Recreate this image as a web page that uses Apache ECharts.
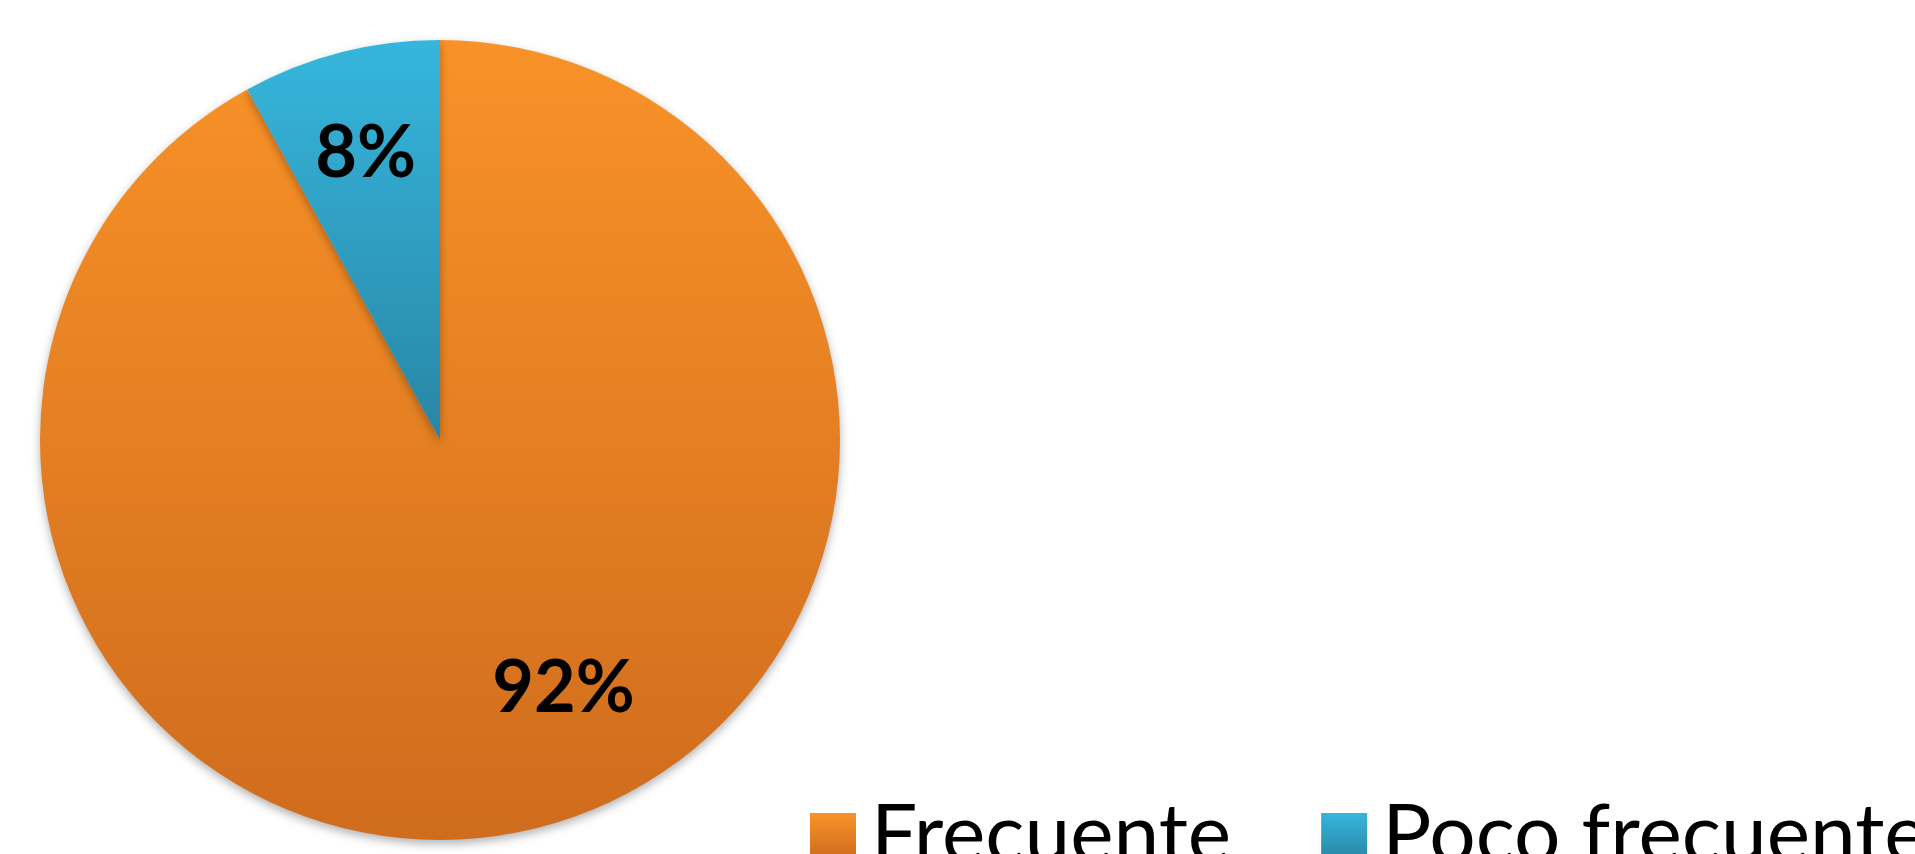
<!DOCTYPE html>
<html>
<head>
<meta charset="utf-8">
<script src="https://cdn.jsdelivr.net/npm/echarts@6/dist/echarts.min.js"></script>
<style>
  html, body { margin: 0; padding: 0; background: #fff; }
  #main { width: 1915px; height: 854px; }
</style>
</head>
<body>
<div id="main"></div>
<script>
// chart data
var categories = ['Frecuente', 'Poco frecuente'];
var values = [92, 8];
var labels = ['92%', '8%'];

var colorStops = [
    ['#F99228', '#CF6C1D'],
    ['#36B6DD', '#2886A5']
];
// push labels out a bit, excel puts them near the edge
var labelOffsets = [[73, 52], [-24, -90]];

var chartDom = document.getElementById('main');
var myChart = echarts.init(chartDom);

var pieData = categories.map(function (name, i) {
    return {
        name: name,
        value: values[i],
        itemStyle: {
            color: new echarts.graphic.LinearGradient(0, 0, 0, 1, [
                { offset: 0, color: colorStops[i][0] },
                { offset: 1, color: colorStops[i][1] }
            ])
        },
        label: { formatter: labels[i], offset: labelOffsets[i] }
    };
});

var option = {
    animation: false,
    legend: {
        data: categories,
        orient: 'horizontal',
        left: 805,
        top: 789,
        width: 1800,
        itemWidth: 46,
        itemHeight: 46,
        itemGap: 90,
        icon: 'rect',
        textStyle: {
            fontFamily: 'Lato',
            fontSize: 82,
            lineHeight: 84,
            color: '#000',
            padding: [0, 0, 0, 10]
        }
    },
    series: [
        {
            type: 'pie',
            center: [440, 440],
            radius: [0, 400],
            startAngle: 90,
            clockwise: true,
            data: pieData,
            itemStyle: {
                borderWidth: 0,
                shadowBlur: 10,
                shadowOffsetY: 4,
                shadowColor: 'rgba(0,0,0,0.3)'
            },
            label: {
                show: true,
                position: 'inside',
                fontFamily: 'Lato',
                fontWeight: 'bold',
                fontSize: 72,
                color: '#000'
            },
            labelLine: { show: false },
            emphasis: { disabled: true }
        }
    ]
};
myChart.setOption(option);
</script>
</body>
</html>
